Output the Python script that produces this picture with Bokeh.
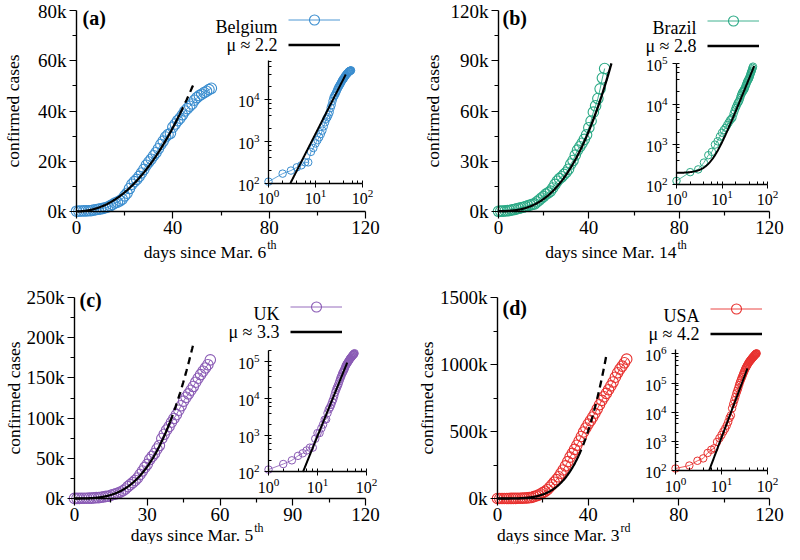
import numpy as np
from bokeh.plotting import figure
from bokeh.models import (Range1d, LogScale, LinearAxis, LogAxis, FixedTicker, LogTicker,
                          Label, Legend, LegendItem, Grid)
from bokeh.layouts import column, row
from bokeh.embed import file_html
from bokeh.resources import INLINE

# ---------------- data ----------------
COUNTRIES = ["Belgium", "Brazil", "UK", "USA"]
PANEL_TAGS = ["(a)", "(b)", "(c)", "(d)"]
START_DAY = ["6", "14", "5", "3"]
START_SUFFIX = ["th", "th", "th", "rd"]

BELGIUM = [109, 169, 200, 239, 267, 314, 314, 559, 689, 886, 1058, 1243, 1486, 1795, 2257,
           2815, 3401, 3743, 4269, 4937, 6235, 7284, 9134, 10836, 11899, 12775, 13964, 15348,
           16770, 18431, 19691, 20814, 22194, 23403, 24983, 26667, 28018, 29647, 30589, 31119,
           33573, 34809, 36138, 37183, 38496, 39983, 40956, 41889, 42797, 44293, 45325, 46134,
           46687, 47334, 47859, 48519, 49032]
BRAZIL = [121, 200, 234, 346, 529, 640, 970, 1178, 1546, 1924, 2247, 2554, 2985, 3417, 3904,
          4256, 4579, 5717, 6836, 8044, 9056, 10360, 11130, 12161, 14034, 16170, 18092, 19638,
          20727, 22192, 23430, 25262, 28320, 30425, 33682, 36658, 38654, 40743, 43079, 45757,
          50036, 54043, 59324, 63100, 67446, 73235, 79685, 85380]
UK = [116, 164, 207, 274, 322, 384, 459, 459, 802, 1144, 1145, 1551, 1960, 2642, 2716, 4014,
      5067, 5745, 6726, 8164, 9640, 11812, 14745, 17312, 19780, 22453, 25481, 29865, 34173,
      38689, 42477, 48436, 52279, 55949, 61474, 65872, 74605, 79874, 85206, 89570, 94845,
      99483, 104145, 109769, 115314, 121172, 125856, 130172, 134638, 139246, 144640, 149569,
      154037, 158348, 162350, 166441, 172481]
USA = [118, 149, 217, 262, 402, 518, 583, 959, 1281, 1663, 2179, 2727, 3499, 4632, 6421, 7786,
       13680, 19101, 25493, 33276, 43847, 53740, 65778, 83836, 101657, 121465, 140909, 161831,
       188172, 213242, 243622, 275367, 308650, 336802, 366317, 397121, 428654, 462780, 496535,
       526396, 555313, 580619, 607670, 636350, 667592, 699706, 732197, 758809, 784326, 811865,
       840351, 869170, 905358, 938154, 965785, 988197, 1012582, 1039909]
CASES = [BELGIUM, BRAZIL, UK, USA]

# power-law fits  C(t) = offset + amp * (t + 1) ** mu
MU = [2.2, 2.8, 3.3, 4.2]
FIT_AMP = [9.44, 1.46, 0.476, 0.085]
FIT_OFFSET = [0, 190, 0, 0]
FIT_SOLID_END = [43.0, 50.0, 39.5, 35.7]
FIT_DASH_END = [48.5, 50.0, 49.2, 47.9]

X_TICKS = [[0, 40, 80, 120], [0, 40, 80, 120], [0, 30, 60, 90, 120], [0, 40, 80, 120]]
Y_TICKS = [[0, 20000, 40000, 60000, 80000],
           [0, 30000, 60000, 90000, 120000],
           [0, 50000, 100000, 150000, 200000, 250000],
           [0, 500000, 1000000, 1500000]]
Y_TICK_LABELS = [["0k", "20k", "40k", "60k", "80k"],
                 ["0k", "30k", "60k", "90k", "120k"],
                 ["0k", "50k", "100k", "150k", "200k", "250k"],
                 ["0k", "500k", "1000k", "1500k"]]
INSET_Y_MAX = [85000, 100000, 200000, 1400000]

COLORS = ["#3a8dcf", "#2aa985", "#8a5bb5", "#e8312f"]

# ---------------- layout (pixels inside each figure) ----------------
GEOM = [
    dict(W=390, H=272, ox=76, x120=365, oy=211, ytop=10,
         ins=(268, 362, 182.7, 4, 98.8), leg=(288, 26), tag=(82, 17), xl=(78.8, 251), ylab=12),
    dict(W=394, H=272, ox=108, x120=379, oy=211, ytop=10,
         ins=(286, 377, 183.7, 5, 63.4), leg=(317, 27), tag=(112, 17), xl=(78.8, 251), ylab=5),
    dict(W=390, H=272, ox=74, x120=365, oy=226, ytop=25,
         ins=(268, 366, 199.4, 5, 89.4), leg=(290, 41), tag=(79, 27), xl=(73.7, 262), ylab=0),
    dict(W=394, H=272, ox=107, x120=379, oy=226, ytop=25,
         ins=(285, 377, 198.1, 6, 81.3), leg=(320, 43), tag=(112, 35), xl=(53.8, 262), ylab=0),
]

FONT = "Liberation Serif"


def lin(va, pa, vb, pb, p):
    return va + (p - pa) * (vb - va) / (pb - pa)


def minors(ticks):
    return [(a + b) / 2 for a, b in zip(ticks[:-1], ticks[1:])]


def style_main_axis(ax):
    ax.axis_line_color = "black"
    ax.axis_line_width = 1.4
    ax.major_tick_line_color = "black"
    ax.minor_tick_line_color = "black"
    ax.major_tick_line_width = 1.2
    ax.minor_tick_line_width = 1.2
    ax.major_tick_out = 7
    ax.major_tick_in = 0
    ax.minor_tick_out = 4
    ax.minor_tick_in = 0
    ax.major_label_text_font = FONT
    ax.major_label_text_font_size = "19px"
    ax.major_label_text_color = "black"
    ax.axis_label_text_font = FONT
    ax.axis_label_text_font_size = "17.5px"
    ax.axis_label_text_font_style = "normal"
    ax.axis_label_text_color = "black"


def style_inset_axis(ax):
    ax.axis_line_color = "black"
    ax.axis_line_width = 1.3
    ax.major_tick_line_color = "black"
    ax.minor_tick_line_color = "black"
    ax.major_tick_out = 4
    ax.major_tick_in = 0
    ax.minor_tick_out = 0
    ax.minor_tick_in = 3
    ax.major_label_text_font = FONT
    ax.major_label_text_font_size = "16px"
    ax.major_label_text_color = "black"


def make_panel(i):
    g = GEOM[i]
    W, H = g["W"], g["H"]
    ox, x120, oy, ytop = g["ox"], g["x120"], g["oy"], g["ytop"]
    xmax = X_TICKS[i][-1]
    ymax = Y_TICKS[i][-1]
    # the frame covers the whole canvas; every guide sits at a fixed location inside it
    fl, fr, ft, fb = 0, W, 0, H

    def X(px):
        return lin(0, ox, xmax, x120, px)

    def Y(py):
        return lin(0, oy, ymax, ytop, py)

    p = figure(width=W, height=H, x_range=Range1d(X(fl), X(fr)), y_range=Range1d(Y(fb), Y(ft)),
               output_backend="svg", toolbar_location=None,
               x_axis_location=None, y_axis_location=None,
               min_border_left=0, min_border_right=0, min_border_top=0, min_border_bottom=0)
    p.min_border = 0
    p.center = [r for r in p.center if not isinstance(r, Grid)]
    p.outline_line_color = None
    p.background_fill_color = "white"
    p.border_fill_color = "white"

    # main axes
    yax = LinearAxis(fixed_location=0, bounds=(0, ymax),
                     ticker=FixedTicker(ticks=Y_TICKS[i], minor_ticks=minors(Y_TICKS[i])),
                     major_label_overrides={v: s for v, s in zip(Y_TICKS[i], Y_TICK_LABELS[i])},
                     axis_label="confirmed cases")
    style_main_axis(yax)
    yax.major_label_standoff = 3
    yax.axis_label_standoff = g["ylab"]
    p.add_layout(yax, "left")

    xax = LinearAxis(fixed_location=0, bounds=(0, xmax),
                     ticker=FixedTicker(ticks=X_TICKS[i], minor_ticks=minors(X_TICKS[i])))
    style_main_axis(xax)
    xax.major_label_standoff = 2
    p.add_layout(xax, "below")

    color = COLORS[i]
    cases = np.array(CASES[i], dtype=float)
    days = np.arange(len(cases))

    ml = p.line(days, cases, line_color=color, line_width=0.9)
    ms = p.scatter(days, cases, marker="circle", size=10.5, fill_color=None,
                   line_color=color, line_width=1.1)

    mu, amp, off = MU[i], FIT_AMP[i], FIT_OFFSET[i]
    tt = np.linspace(0, FIT_SOLID_END[i], 200)
    solid = p.line(tt, off + amp * (tt + 1) ** mu, line_color="black", line_width=2.3)
    if FIT_DASH_END[i] > FIT_SOLID_END[i]:
        td = np.linspace(FIT_SOLID_END[i], FIT_DASH_END[i], 60)
        p.line(td, off + amp * (td + 1) ** mu, line_color="black", line_width=2.3,
               line_dash="7 5")

    # inset (log-log) on extra ranges
    il, ir, ib, dexp, dpx = g["ins"]
    p.extra_x_ranges = {"ix": Range1d(10 ** lin(0, il, 2, ir, fl), 10 ** lin(0, il, 2, ir, fr))}
    p.extra_y_ranges = {"iy": Range1d(10 ** lin(2, ib, dexp, dpx, fb), 10 ** lin(2, ib, dexp, dpx, ft))}
    p.extra_x_scales = {"ix": LogScale()}
    p.extra_y_scales = {"iy": LogScale()}

    iyax = LogAxis(x_range_name="ix", y_range_name="iy", fixed_location=1,
                   bounds=(100, INSET_Y_MAX[i]), ticker=LogTicker(desired_num_ticks=10))
    style_inset_axis(iyax)
    iyax.major_label_standoff = 5
    p.add_layout(iyax, "left")
    ixax = LogAxis(x_range_name="ix", y_range_name="iy", fixed_location=100,
                   bounds=(1, 100), ticker=LogTicker(desired_num_ticks=6))
    style_inset_axis(ixax)
    ixax.major_label_standoff = 2
    p.add_layout(ixax, "below")

    xin = days + 1
    p.line(xin, cases, x_range_name="ix", y_range_name="iy", line_color=color, line_width=0.8)
    p.scatter(xin, cases, x_range_name="ix", y_range_name="iy", marker="circle", size=7.5,
              fill_color=None, line_color=color, line_width=1.0)
    x0 = 1.0 if off >= 100 else ((100 - off) / amp) ** (1 / mu)
    xf = np.geomspace(x0, FIT_SOLID_END[i] + 1, 200)
    p.line(xf, off + amp * xf ** mu, x_range_name="ix", y_range_name="iy",
           line_color="black", line_width=2.0)

    # legend: samples drawn by a Legend, texts right-aligned to their left
    gx, r1 = g["leg"]
    gw, gh, step = 52, 25, 18
    leg = Legend(items=[LegendItem(label="", renderers=[ml, ms]),
                        LegendItem(label="", renderers=[solid])],
                 location=(gx - fl, fb - (r1 - gh / 2 + gh + step)),
                 glyph_width=gw, glyph_height=gh, label_height=gh, label_width=0,
                 spacing=step - gh, padding=0, margin=0, label_standoff=0,
                 background_fill_alpha=0, border_line_alpha=0)
    p.add_layout(leg)
    for k, txt in enumerate([COUNTRIES[i], f"μ ≈ {MU[i]}"]):
        p.add_layout(Label(x=X(gx - 11), y=Y(r1 + k * step), text=txt, text_font=FONT,
                           text_font_size="18px", text_baseline="middle", text_align="right",
                           text_color="black"))

    # panel tag
    tx, ty = g["tag"]
    p.add_layout(Label(x=X(tx), y=Y(ty), text=PANEL_TAGS[i], text_font=FONT,
                       text_font_size="20px", text_font_style="bold",
                       text_baseline="middle", text_align="left", text_color="black"))

    # x-axis label with superscript
    xe, yc = g["xl"]
    p.add_layout(Label(x=xe, y=Y(yc), text=f"days since Mar. {START_DAY[i]}", text_font=FONT,
                       text_font_size="17.5px", text_baseline="middle", text_align="right",
                       text_color="black"))
    p.add_layout(Label(x=xe, y=Y(yc - 7), x_offset=1, text=START_SUFFIX[i], text_font=FONT,
                       text_font_size="12px", text_baseline="middle", text_align="left",
                       text_color="black"))
    return p


panels = [make_panel(i) for i in range(4)]
layout = column(row(panels[0], panels[1]), row(panels[2], panels[3]))

with open("out.html", "w") as f:
    f.write(file_html(layout, INLINE))
